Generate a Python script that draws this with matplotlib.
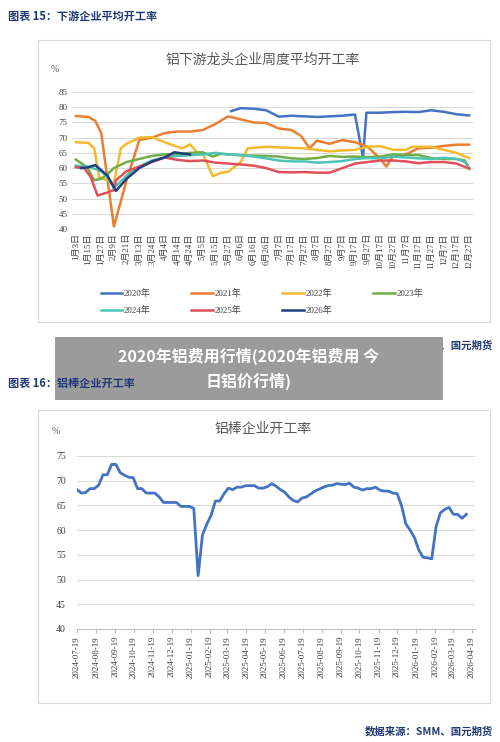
import numpy as np
import pandas as pd
import matplotlib
matplotlib.use("Agg")
import matplotlib.pyplot as plt
from matplotlib.patches import Rectangle

CJK = ['Noto Sans CJK SC', 'DejaVu Sans']
SER = ['Liberation Serif', 'Noto Sans CJK SC']
plt.rcParams['font.family'] = CJK

# ---------- data: chart 1 ----------
top_labels = ["1月3日","1月15日","1月27日","2月9日","2月21日","3月13日","3月24日","4月4日",
              "4月14日","4月24日","5月5日","5月15日","5月27日","6月6日","6月16日","6月26日",
              "7月7日","7月17日","7月27日","8月7日","8月27日","9月7日","9月17日","9月27日",
              "10月17日","10月27日","11月7日","11月17日","11月27日","12月7日","12月17日","12月27日"]
series_names = ["2020年","2021年","2022年","2023年","2024年","2025年","2026年"]
x2020 = [12.24,13,14,15,16,17,18,19,20,21,22,22.63,22.9,23,24,25,26,27,28,29,30,31]
y2020 = [78.7,79.7,79.5,79,76.9,77.2,77,76.8,77,77.2,77.6,63.5,78.2,78.2,78.2,78.4,78.5,78.4,79,78.5,77.7,77.3]
x2021 = [0,1,1.53,2,3,4,5,6,7,8,9,10,11,12,13,14,15,16,17,17.76,18.42,19,20,21,22,23,24,24.47,25,26,27,28,29,30,31]
y2021 = [77.1,76.8,75.5,71.6,40.8,56,69.2,70,71.5,72,72,72.5,74.5,77,76,75,74.8,73,72.5,70.5,66.5,69,68,69.2,68.5,67,63,60.5,64,64.5,66.5,66.7,67.3,67.7,67.7]
x2022 = [0,1,1.45,1.84,2.5,3,3.55,4,5,6,7,8,8.42,9,9.6,10,10.8,11.45,12,13,13.55,15,16,18,19,20,21,22,23,24,25,26,26.5,28,29,30,31]
y2022 = [68.5,68.3,66.5,57,56,55,66.5,68,70,70.2,68.5,67,66.5,67.8,65,64.8,57.3,58.5,58.8,62,66.5,67,66.8,66.5,66,65.5,65.8,66,67,67.2,66,66,67,67,66,65,63.3]
x2023 = [0,0.66,1,1.45,2,2.5,3,4,5,6,7,8,9,10,10.8,11.45,13,15,16,17,18,19,20,21,22,23,24,25,26,27,28,29,30,30.66,31]
y2023 = [62.8,61,59.5,56,56.5,58,60,62,63,64,64.5,64.6,65,65.2,63.8,64.7,64.2,64,63.8,63.2,63,63.3,64,63.7,63.8,63.6,63.8,64.5,64.3,64.3,63.3,63,63,62.5,60]
x2024 = [0,1,2,2.5,3,4,5,6,7,8,9,10,11,12,13,14,15,16,17,18,19,20,21,22,23,24,25,26,27,28,29,30,30.66,31]
y2024 = [60.8,60.5,59,57,53.5,57.5,60.5,62.5,63.5,64,64.2,64.5,65,64.5,64.3,63.8,63.2,62.5,62.2,62.2,61.8,62,62.3,63,63.3,63.2,63.8,63.5,63.2,63,63.4,63,62,60]
x2025 = [0,0.66,1.18,1.71,2.5,3,3.16,4,5,6,7,8,9,10,11,12,13,14,15,16,17,18,19,20,21,22,23,24,25,26,27,28,29,30,31]
y2025 = [60.3,60,57,51,52,52.8,56,59,60.5,62,63.5,62.7,62.3,62.5,61.8,61.5,61.2,60.8,60,58.7,58.6,58.7,58.5,58.5,60,61.5,62,62.5,62.5,62.2,61.6,62,62,61.5,59.8]
x2026 = [0.4,1,1.53,2.5,3.16,4,5,6,7,7.76,8.42,9]
y2026 = [60,60.3,61,57.5,52.5,56.5,60,62.2,63.5,65.2,64.8,64.5]
colors = ["#4472C4","#ED7D31","#F5B92E","#70AD47","#4BC4B6","#E0505A","#223F7A"]

# ---------- data: chart 2 ----------
bar_vals = [68.2,67.5,67.6,68.4,68.4,69.1,71.2,71.2,73.3,73.3,71.6,71.1,70.7,70.6,68.4,68.4,67.5,67.5,67.5,
            66.7,65.6,65.6,65.6,65.6,64.8,64.8,64.8,64.4,50.8,59,61.2,63,65.9,65.9,67.4,68.5,68.2,68.7,68.7,
            69,69,69,68.5,68.5,68.8,69.4,68.9,68.2,67.7,66.7,66,65.7,66.5,66.7,67.3,67.9,68.3,68.7,69,69.1,
            69.4,69.3,69.2,69.5,68.7,68.5,68.1,68.4,68.4,68.7,68.1,67.9,67.9,67.5,67.4,65,61.3,60,58.5,56,
            54.5,54.4,54.2,60.7,63.5,64.2,64.6,63.2,63.2,62.4,63.2]
bar_dates = pd.date_range("2024-07-19", periods=len(bar_vals), freq="7D")
bar_ticks = pd.date_range("2024-07-01", "2026-04-30", freq="MS") + pd.Timedelta(days=18)

W, H = 500, 742
fig = plt.figure(figsize=(W/100, H/100), dpi=100)
fig.patch.set_facecolor("white")
def fx(px): return px / W
def fy(py): return 1 - py / H

navy = "#1F3A75"
fig.text(fx(8), fy(16), "图表 15：下游企业平均开工率", fontsize=8, color=navy, va="center", fontweight="bold")
fig.text(fx(8), fy(383), "图表 16：铝棒企业开工率", fontsize=8, color=navy, va="center", fontweight="bold", zorder=12)
fig.text(fx(493), fy(345), "数据来源：SMM、国元期货", fontsize=7.5, color=navy, va="center", ha="right", fontweight="bold")
fig.text(fx(493), fy(731), "数据来源：SMM、国元期货", fontsize=7.5, color=navy, va="center", ha="right", fontweight="bold")

for (x0, y0, x1, y1) in [(38, 40, 490, 322), (38, 410, 490, 703)]:
    fig.add_artist(Rectangle((fx(x0), fy(y1)), fx(x1 - x0), (y1 - y0) / H, transform=fig.transFigure,
                             fill=False, edgecolor="#d9d9d9", lw=0.8))

# ---------- top chart ----------
ax1 = fig.add_axes([fx(72), fy(229), fx(473 - 72), (229 - 92) / H])
xs = [x2020, x2021, x2022, x2023, x2024, x2025, x2026]
ys = [y2020, y2021, y2022, y2023, y2024, y2025, y2026]
lines = []
for name, x, y, c in zip(series_names, xs, ys, colors):
    lines += ax1.plot(x, y, color=c, lw=1.8, label=name)
ax1.set_ylim(40, 85)
ax1.set_yticks(range(40, 86, 5))
ax1.set_xlim(-0.3, 31.3)
ax1.set_xticks(range(len(top_labels)))
ax1.set_xticklabels(top_labels, rotation=90, fontsize=6.5, family=SER, color="#404040")
for t in ax1.get_yticklabels():
    t.set_family(SER); t.set_fontsize(6.5); t.set_color("#404040")
ax1.grid(axis="y", color="#d9d9d9", lw=0.7)
for s in ax1.spines.values(): s.set_visible(False)
ax1.tick_params(length=0, pad=3)
fig.text(fx(263), fy(60), "铝下游龙头企业周度平均开工率", fontsize=10, color="#595959", ha="center", va="center")
fig.text(fx(55), fy(69), "%", fontsize=7, color="#595959", ha="center", va="center", family=SER)
order = [0, 4, 1, 5, 2, 6, 3]
leg = fig.legend([lines[i] for i in order], [series_names[i] for i in order], loc="center",
                 bbox_to_anchor=(fx(262), fy(302)), ncol=4,
                 frameon=False, fontsize=6.5, handlelength=2.4, columnspacing=4.5, handletextpad=0.2,
                 labelspacing=0.9)
for t in leg.get_texts(): t.set_family(SER); t.set_color("#404040")

# ---------- bottom chart ----------
ax2 = fig.add_axes([fx(77), fy(629), fx(475 - 77), (629 - 456) / H])
ax2.plot(bar_dates, bar_vals, color="#4472C4", lw=2)
ax2.set_ylim(40, 75)
ax2.set_yticks(range(40, 76, 5))
ax2.set_xlim(bar_dates[0], pd.Timestamp("2026-04-24"))
ax2.set_xticks(bar_ticks)
ax2.set_xticklabels([d.strftime("%Y-%m-%d") for d in bar_ticks], rotation=90, fontsize=6.5, family=SER, color="#404040")
for t in ax2.get_yticklabels():
    t.set_family(SER); t.set_fontsize(7); t.set_color("#404040")
ax2.grid(axis="y", color="#d9d9d9", lw=0.7)
for k, s in ax2.spines.items():
    s.set_visible(k == "bottom")
ax2.spines["bottom"].set_color("#bfbfbf")
ax2.tick_params(axis="y", length=0, pad=8)
ax2.tick_params(axis="x", length=3, color="#bfbfbf", pad=2)
fig.text(fx(263), fy(429), "铝棒企业开工率", fontsize=10, color="#595959", ha="center", va="center")
fig.text(fx(56), fy(431), "%", fontsize=7, color="#595959", ha="center", va="center", family=SER)

fig.add_artist(Rectangle((fx(55), fy(400)), fx(443 - 55), (400 - 337) / H, transform=fig.transFigure,
                         facecolor="#9b9b9b", edgecolor="none", zorder=10))
fig.text(fx(249), fy(369), "2020年铝费用行情(2020年铝费用 今\n日铝价行情)", fontsize=11.5, color="white",
         fontweight="bold", ha="center", va="center", linespacing=1.5, zorder=11)

fig.savefig("out.png", dpi=100)
